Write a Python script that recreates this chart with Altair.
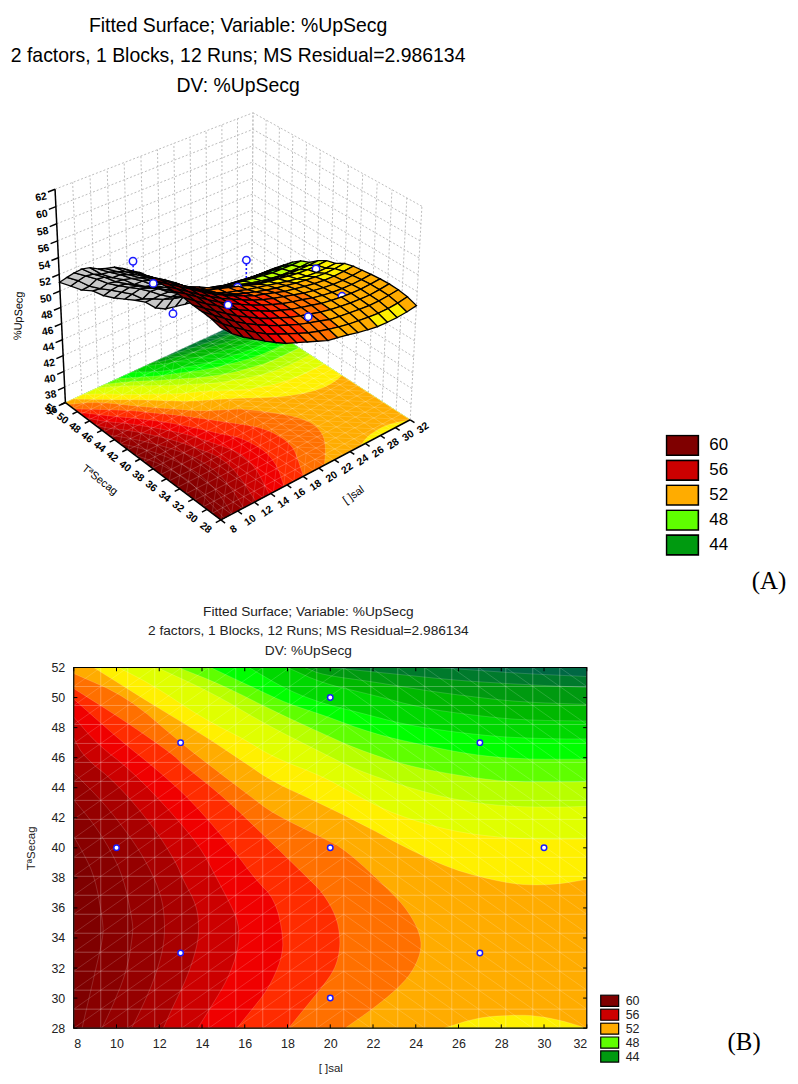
import numpy as np
import pandas as pd
import altair as alt

# ---------- categories / labels ----------
TITLE_LINES = ["Fitted Surface; Variable: %UpSecg",
               "2 factors, 1 Blocks, 12 Runs; MS Residual=2.986134",
               "DV: %UpSecg"]
X_TICKS = [8,10,12,14,16,18,20,22,24,26,28,30,32]
Y_TICKS = [28,30,32,34,36,38,40,42,44,46,48,50,52]
Z_TICKS = [36,38,40,42,44,46,48,50,52,54,56,58,60,62]
LEGEND_VALUES = [60,56,52,48,44]
LEVELS = [60,59,58,57,56,55,54,53,52,51,50,49,48,47,46,45,44,43,42,0]
COLORS = ["#7f0000","#880000","#950000","#a80000","#cc0000","#f00000","#ff2c00","#ff7000",
          "#ffac00","#fff000","#e0ff00","#b8ff00","#5fff00","#00ff00","#00d800","#00b800",
          "#009a10","#007a2c","#006844","#c8c8c8"]

# ---------- contour boundaries: (sal, T) ----------
C43 = [(25,52),(27,51.8),(29,51.6),(32,51.4)]
C44 = [(20,52),(21.2,51.83),(23.5,51.5),(25.8,51.16),(28.15,50.94),(30.46,50.77),(32,50.68)]
C45 = [(18.8,52),(19.66,51.5),(22,51.05),(24.3,50.5),(26.6,50.06),(28.9,49.7),(32,49.55)]
C46 = [(18,52),(19.66,50.94),(22,50.17),(24.3,49.3),(26.6,48.84),(28.9,48.5),(32,48.44)]
C47 = [(16.2,52),(18,50.5),(19.66,49.6),(21.2,49.06),(23.5,48.2),(25.8,47.7),(28.15,47.36),(30.46,47.25),(32,47.25)]
C48 = [(14.4,52),(16.5,50.6),(18,49.6),(19.66,48.84),(22,47.6),(24.3,46.85),(26.6,46.2),(28.9,45.9),(32,45.9)]
C49 = [(12.9,52),(15,50.8),(17.5,49),(19.66,47.6),(21.2,46.6),(23.5,45.5),(25.8,44.86),(28.15,44.4),(30.77,44.37),(32,44.4)]
C50 = [(11.9,52),(14.5,50.3),(17,48.2),(19.66,46.3),(21.2,45.2),(23.5,44.08),(25.8,43.2),(28.15,42.76),(30.46,42.7),(32,42.76)]
C51 = [(10.1,52),(11.73,50.8),(14.06,48.6),(16.07,47.16),(17.3,46.05),(19.66,44.75),(21.2,43.5),(23.05,42.2),(25.67,41.1),(28.15,40.65),(30.46,40.55),(32,40.6)]
C52 = [(8.93,52),(11.73,49.5),(14.06,47.5),(16.07,45.6),(17.3,44.4),(19.66,42.87),(22,41.2),(23.4,40.1),(25.7,38.55),(28.15,37.67),(29.5,37.5),(30.77,37.6),(32,37.9)]
C52_LOW = [(32,28),(30.77,28.53),(29.5,28.86),(28.3,28.86),(26.9,28.7),(25.3,28)]
C53 = [(8,51.6),(10.5,50.04),(13,47),(14.44,45.4),(16.2,43.5),(17.3,42.3),(19.66,40.65),(20.7,39.9),(23.05,36.8),(23.8,35.45),(24.24,34.1),(24.24,33),(23.8,31.65),(23.05,30.5),(22,29.3),(20.7,28)]
C54 = [(8,50.6),(10.33,48.5),(12.66,46.2),(13.05,45.6),(15,43.4),(16.95,40.75),(17.75,39.65),(18.8,38.2),(19.66,37),(20.28,35.45),(20.46,34.1),(20.43,33),(20.2,31.9),(19.66,30.8),(18.05,28)]
C55 = [(8,49.9),(10.17,47.16),(11.9,45.2),(13.6,43),(15.45,39.9),(16.5,37.9),(17.42,36.56),(17.81,34.1),(17.73,32.6),(17.1,30.6),(16.2,29),(15.63,28)]
C56 = [(8,48.7),(9.1,46.9),(10.64,45.2),(12.35,42.7),(13.9,40.1),(14.6,38.2),(15.2,36.6),(15.74,35),(15.7,33.2),(15.2,31.25),(14.46,29.5),(13.8,28)]
C57 = [(8,47.3),(8.47,46.05),(10,44.3),(11.73,41.4),(12.8,39),(13.1,37.9),(13.75,36.2),(13.87,34.6),(13.75,33.3),(13.28,31.3),(12.66,29.5),(12.19,28)]
C58 = [(8,45),(9.4,43),(10.64,40.75),(11.5,38.8),(12.1,36.84),(12.27,35.07),(12.2,33.3),(11.73,31.1),(11.1,29.1),(10.7,28)]
C59 = [(8,43.2),(8.93,41.6),(9.7,39.9),(10.33,38),(10.76,35.07),(10.76,34.2),(10.48,31.76),(9.7,29.1),(9.32,28)]
C60 = [(8,40.75),(8.47,39.6),(9,38),(9.37,35.07),(9.37,34),(9,31.76),(8.39,28)]
BOUNDARIES = {43:C43,44:C44,45:C45,46:C46,47:C47,48:C48,49:C49,50:C50,51:C51,52:C52,
              53:C53,54:C54,55:C55,56:C56,57:C57,58:C58,59:C59,60:C60}

# ---------- surface heights read at the mesh nodes (rows: T 28..52, cols: sal 8..32) ----------
Z_TABLE = [
 [60.3,59.05,58.1,57.25,56.45,55.7,55.0,54.5,54.0,53.5,53.0,52.75,52.5,52.2,51.95,51.75,51.7,51.7,51.8,52.0],
 [60.6,59.45,58.5,57.6,56.75,56.0,55.4,54.85,54.3,53.8,53.4,53.05,52.75,52.5,52.35,52.2,52.1,52.1,52.2,52.4],
 [60.7,59.75,58.8,57.85,57.05,56.35,55.7,55.1,54.6,54.1,53.7,53.35,52.95,52.75,52.6,52.45,52.35,52.35,52.45,52.6],
 [60.75,59.85,58.95,58.1,57.25,56.55,55.85,55.25,54.75,54.25,53.85,53.5,53.15,52.9,52.7,52.55,52.45,52.4,52.5,52.65],
 [60.9,60.0,59.1,58.3,57.45,56.7,56.05,55.45,54.85,54.4,53.95,53.6,53.3,52.95,52.75,52.6,52.5,52.45,52.5,52.6],
 [60.9,60.1,59.2,58.3,57.5,56.75,56.1,55.45,54.9,54.4,53.95,53.6,53.3,52.95,52.7,52.5,52.4,52.35,52.4,52.5],
 [60.85,60.0,59.15,58.25,57.45,56.7,56.05,55.4,54.8,54.3,53.9,53.55,53.2,52.85,52.6,52.4,52.25,52.2,52.25,52.35],
 [60.75,59.9,59.05,58.2,57.35,56.55,55.85,55.2,54.65,54.1,53.75,53.35,52.95,52.7,52.45,52.25,52.1,52.05,52.1,52.2],
 [60.7,59.75,58.85,58.0,57.0,56.1,55.3,54.7,54.2,53.75,53.35,53.0,52.7,52.45,52.2,52.0,51.85,51.75,51.78,51.9],
 [60.45,59.3,58.35,57.45,56.7,55.85,55.0,54.25,53.7,53.35,52.95,52.65,52.35,52.05,51.75,51.5,51.3,51.2,51.2,51.25],
 [60.0,59.0,58.1,57.3,56.4,55.4,54.6,53.9,53.5,53.1,52.7,52.25,51.85,51.6,51.4,51.2,51.0,50.9,50.9,50.95],
 [59.6,58.65,57.7,56.75,55.8,54.9,54.2,53.6,52.95,52.5,52.1,51.65,51.15,50.8,50.6,50.45,50.3,50.25,50.25,50.3],
 [59.1,58.05,57.15,56.25,55.3,54.4,53.55,52.8,52.25,51.75,51.25,50.8,50.5,50.15,49.85,49.6,49.45,49.4,49.4,49.45],
 [58.3,57.4,56.5,55.6,54.75,53.75,52.8,52.05,51.4,50.85,50.55,50.2,49.9,49.7,49.5,49.3,49.1,49.05,49.0,49.0],
 [57.6,56.7,55.85,54.85,54.0,52.95,52.15,51.4,50.75,50.3,49.8,49.45,49.05,48.85,48.6,48.45,48.35,48.25,48.2,48.2],
 [57.1,55.8,54.85,54.05,52.95,52.15,51.45,50.65,49.85,49.25,48.8,48.4,48.0,47.85,47.7,47.55,47.4,47.3,47.25,47.2],
 [56.3,55.15,54.25,53.15,52.35,51.5,50.75,50.1,49.15,48.4,47.85,47.4,47.1,46.85,46.7,46.55,46.4,46.3,46.25,46.2],
 [55.2,54.3,53.35,52.3,51.45,50.7,49.95,49.1,48.1,47.3,46.85,46.6,46.35,46.1,45.85,45.65,45.5,45.3,45.15,45.05],
 [54.0,53.05,51.85,51.0,50.25,49.45,48.65,47.5,46.95,46.3,45.85,45.5,45.2,44.9,44.7,44.55,44.4,44.2,44.05,43.9],
 [52.75,51.75,50.7,50.05,48.9,48.05,47.35,46.65,45.85,44.55,43.85,43.6,43.35,43.1,42.9,42.75,42.6,42.45,42.3,42.2],
]
SURFACE_DROP = 1.7   # the drawn surface sits this far below the contour labels on the z axis

# ---------- observed runs ----------
PT_X   = [10, 13, 13, 20, 20, 20, 27, 27, 30]
PT_T   = [40, 33, 47, 30, 40, 50, 33, 47, 40]
PT_OBS = [56.3, 56.2, 54, 53.3, 51.5, 42.9, 51.0, 48.2, 49.4]
PT_FIT = [58.8, 57.45, 53, 53.9, 53, 46, 52.6, 47.55, 51]
PT_TOP = [True, True, True, True, False, True, False, True, False]

# ---------- 3-D view calibration: box corners on the page (u, v, w) -> (px, py) ----------
CORNERS = [((0,0,0),(220,521.7)),((0,1,0),(63.3,404)),((1,0,0),(409.3,421.7)),((1,1,0),(251,317.7)),
           ((0,1,1),(53.3,190)),((1,0,1),(421.7,206.7)),((1,1,1),(251.7,113.3))]
A = []; B = []
for (u,v,w),(px,py) in CORNERS:
    A.append([u,v,w,1,0,0,0,0,-px*u,-px*v,-px*w]); B.append(px)
    A.append([0,0,0,0,u,v,w,1,-py*u,-py*v,-py*w]); B.append(py)
M = np.linalg.lstsq(np.array(A,float),np.array(B,float),rcond=None)[0]
M = np.append(M,1.0).reshape(3,4)

def proj(sal,t,z=36.0):
    u=(sal-8)/24; v=(t-28)/24; w=(z-36)/26
    p=M@np.array([u,v,w,1.0])
    return float(p[0]/p[2]),float(p[1]/p[2])

# panel geometry on the page
P_LEFT=72; P_TOP=101; P_W=718; P_H=504

def soften(points,rounds=2):
    # corner cutting of the read boundary, the end points stay where they were read
    pts=list(points)
    for _ in range(rounds):
        new=[pts[0]]
        for (a,b),(c,d) in zip(pts[:-1],pts[1:]):
            new.append((0.75*a+0.25*c,0.75*b+0.25*d))
            new.append((0.25*a+0.75*c,0.25*b+0.75*d))
        new.append(pts[-1])
        pts=new
    return pts

def ring(level):
    c=soften(BOUNDARIES[level])
    if level<=51: return c+[(32,28),(8,28),(8,52)]
    if level==52: return c+soften(C52_LOW)+[(8,28),(8,52)]
    return c+[(8,28)]

def poly_rows(to_xy):
    rows=[]
    base=[(8,28),(32,28),(32,52),(8,52)]
    for s,(a,b) in enumerate(base):
        x,y=to_xy(a,b); rows.append(dict(x=x,y=y,poly=42,seq=s,level=42))
    for lv in sorted(BOUNDARIES):
        for s,(a,b) in enumerate(ring(lv)):
            x,y=to_xy(a,b); rows.append(dict(x=x,y=y,poly=lv,seq=s,level=lv))
    return pd.DataFrame(rows)

GX=[8+i*24/19 for i in range(20)]
GY=[28+i*24/19 for i in range(20)]

def mesh_rows(to_xy,diag):
    rows=[]
    def seg(a,b,c,d):
        x1,y1=to_xy(a,b);x2,y2=to_xy(c,d)
        rows.append(dict(x=x1,y=y1,x2=x2,y2=y2))
    if not diag:
        for g in GX: seg(g,28,g,52)
        for g in GY: seg(8,g,32,g)
    else:
        for i in range(19):
            for j in range(19):
                if i<10: seg(GX[i],GY[j],GX[i+1],GY[j+1])
                else: seg(GX[i],GY[j+1],GX[i+1],GY[j])
    return pd.DataFrame(rows)

fill_scale=alt.Scale(domain=LEVELS,range=COLORS)
def fill_enc(legend):
    return alt.Fill('level:O',scale=fill_scale,legend=legend)
band_style=dict(interpolate='linear-closed',stroke='white',strokeOpacity=0.2,strokeWidth=0.8)

# ================= PANEL A =================
xs=alt.Scale(domain=[P_LEFT,P_LEFT+P_W],nice=False,zero=False)
ys=alt.Scale(domain=[P_TOP+P_H,P_TOP],nice=False,zero=False)
X=alt.X('x:Q',scale=xs,axis=None); Y=alt.Y('y:Q',scale=ys,axis=None)

legA=alt.Legend(orient='none',legendX=594,legendY=335,title=None,values=LEGEND_VALUES,
    symbolType='M-1,-0.62H1V0.62H-1Z',symbolSize=1024,symbolStrokeColor='black',symbolStrokeWidth=1.6,symbolOpacity=1,
    labelFontSize=17,labelFont='Liberation Sans',labelColor='black',clipHeight=22,rowPadding=3,labelOffset=10,columns=1)

# back walls
wall=[]
def wl(a,b):
    x1,y1=proj(*a);x2,y2=proj(*b)
    wall.append(dict(x=x1,y=y1,x2=x2,y2=y2))
for z in Z_TICKS:
    wl((8,52,z),(32,52,z)); wl((32,28,z),(32,52,z))
for s in X_TICKS: wl((s,52,36),(s,52,62))
for t in Y_TICKS: wl((32,t,36),(32,t,62))
walls=alt.Chart(pd.DataFrame(wall)).mark_rule(color='#bdbdbd',strokeDash=[2,2],strokeWidth=1).encode(x=X,y=Y,x2='x2:Q',y2='y2:Q')

floor=alt.Chart(poly_rows(lambda a,b:proj(a,b))).mark_line(**band_style).encode(
    x=X,y=Y,detail='poly:N',order='seq:Q',fill=fill_enc(legA))
floormesh=alt.Chart(mesh_rows(lambda a,b:proj(a,b),False)).mark_rule(color='white',opacity=0.25,strokeWidth=0.8).encode(x=X,y=Y,x2='x2:Q',y2='y2:Q')
floordiag=alt.Chart(mesh_rows(lambda a,b:proj(a,b),True)).mark_rule(color='white',opacity=0.18,strokeWidth=0.8).encode(x=X,y=Y,x2='x2:Q',y2='y2:Q')

# axes
ax=[]
def al(a,b):
    x1,y1=proj(*a);x2,y2=proj(*b); ax.append(dict(x=x1,y=y1,x2=x2,y2=y2))
al((8,52,36),(8,28,36)); al((8,28,36),(32,28,36)); al((8,52,36),(8,52,62))
for s in X_TICKS: al((s,28,36),(s,27.4,36))
for t in Y_TICKS: al((8,t,36),(7.4,t,36))
for z in Z_TICKS: al((8,52,z),(7.2,52,z))
axes=alt.Chart(pd.DataFrame(ax)).mark_rule(color='black',strokeWidth=1.5).encode(x=X,y=Y,x2='x2:Q',y2='y2:Q')

def lab(items,angle,size=10.5,weight='bold'):
    df=pd.DataFrame(items,columns=['x','y','t'])
    return alt.Chart(df).mark_text(angle=angle,fontSize=size,font='Liberation Sans',fontWeight=weight,color='black').encode(x=X,y=Y,text='t:N')
labx=lab([(*proj(s,26.2),str(s)) for s in X_TICKS],325)
labt=lab([(*proj(6.2,t),str(t)) for t in Y_TICKS],38)
labz=lab([(proj(8,52,z)[0]-14,proj(8,52,z)[1]+8,str(z)) for z in Z_TICKS],350)
name_x=lab([(353,497,'[ ]sal')],325,11,'normal')
name_t=lab([(98,482,'TªSecag')],38,11,'normal')
name_z=lab([(17,317,'%UpSecg')],272,11,'normal')

# surface
quads=[]
Zt=np.array(Z_TABLE)
for j in range(19):
    for i in range(19):
        corners=[(i,j),(i+1,j),(i+1,j+1),(i,j+1)]
        pts=[proj(GX[a],GY[b],Zt[b,a]-SURFACE_DROP) for a,b in corners]
        area=sum(pts[k][0]*pts[(k+1)%4][1]-pts[(k+1)%4][0]*pts[k][1] for k in range(4))
        m=np.mean([Zt[b,a] for a,b in corners])
        lev=0 if area>0 else int(min(60,max(42,np.floor(m))))
        depth=(GX[i]+GX[i+1])/2+(GY[j]+GY[j+1])/2
        for s,(px,py) in enumerate(pts):
            quads.append(dict(x=px,y=py,q=j*19+i,seq=s,level=lev,depth=depth))
qdf=pd.DataFrame(quads).sort_values(['depth','q','seq'],ascending=[False,True,True])

def quad_chunk(lo,hi):
    d=qdf[(qdf.depth>lo)&(qdf.depth<=hi)]
    if len(d)==0: return None
    return alt.Chart(d).mark_line(interpolate='linear-closed',stroke='black',strokeWidth=1.3).encode(
        x=X,y=Y,detail='q:N',order='seq:Q',fill=fill_enc(legA))
def stem_layer(k):
    x1,y1=proj(PT_X[k],PT_T[k],PT_OBS[k]);x2,y2=proj(PT_X[k],PT_T[k],PT_FIT[k]-SURFACE_DROP)
    return alt.Chart(pd.DataFrame([dict(x=x1,y=y1,x2=x2,y2=y2)])).mark_rule(color='#1a1aff',strokeWidth=1.6,strokeDash=[2,2]).encode(x=X,y=Y,x2='x2:Q',y2='y2:Q')
def dot_layer(k):
    x1,y1=proj(PT_X[k],PT_T[k],PT_OBS[k])
    return alt.Chart(pd.DataFrame([dict(x=x1,y=y1)])).mark_point(filled=True,fill='white',stroke='#1a1aff',strokeWidth=1.5,size=55,opacity=1).encode(x=X,y=Y)

hidden=sorted([k for k in range(len(PT_X)) if not PT_TOP[k]],key=lambda k:-(PT_X[k]+PT_T[k]))
surface_layers=[stem_layer(k) for k in range(len(PT_X)) if PT_TOP[k]]
upper=1e9
for k in hidden:
    key=PT_X[k]+PT_T[k]
    ch=quad_chunk(key,upper)
    if ch is not None: surface_layers.append(ch)
    upper=key
    surface_layers+=[stem_layer(k),dot_layer(k)]
surface_layers.append(quad_chunk(-1e9,upper))
for k in range(len(PT_X)):
    if PT_TOP[k]: surface_layers.append(dot_layer(k))

tagA=alt.Chart(pd.DataFrame(dict(x=[770],y=[583],t=['(A)']))).mark_text(font='Liberation Serif',fontSize=25,color='black').encode(x=X,y=Y,text='t:N')

panelA=alt.layer(walls,floor,floormesh,floordiag,*surface_layers,axes,labx,labt,labz,name_x,name_t,name_z,tagA).properties(
    width=P_W,height=P_H,view=alt.ViewConfig(stroke='transparent'),
    title=alt.TitleParams(text=TITLE_LINES,fontSize=19.5,lineHeight=30,font='Liberation Sans',fontWeight='normal',color='black',anchor='middle',dx=-194,offset=4))

# ================= PANEL B =================
xb=alt.Scale(domain=[8,32],nice=False,zero=False)
yb=alt.Scale(domain=[28,52],nice=False,zero=False)
legB=alt.Legend(orient='none',legendX=528,legendY=328,title=None,values=LEGEND_VALUES,
    symbolType='M-1,-0.62H1V0.62H-1Z',symbolSize=324,symbolStrokeColor='black',symbolStrokeWidth=1.2,symbolOpacity=1,
    labelFontSize=12.5,labelFont='Liberation Sans',labelColor='#222222',clipHeight=13,rowPadding=1,labelOffset=6,columns=1)
axis_style=dict(tickSize=0,grid=False,domain=False,labelFontSize=12.5,labelFont='Liberation Sans',labelColor='#222222',labelOverlap=False,
                titleFontSize=11.5,titleFont='Liberation Sans',titleFontWeight='normal',titleColor='#222222')
Xb=alt.X('x:Q',scale=xb,title='[ ]sal',axis=alt.Axis(values=X_TICKS,labelPadding=9,titlePadding=13,**axis_style))
Yb=alt.Y('y:Q',scale=yb,title='TªSecag',axis=alt.Axis(values=Y_TICKS,labelPadding=9,titlePadding=14,**axis_style))
bands=alt.Chart(poly_rows(lambda a,b:(a,b))).mark_line(**band_style).encode(
    x=Xb,y=Yb,detail='poly:N',order='seq:Q',fill=fill_enc(legB))
meshb=alt.Chart(mesh_rows(lambda a,b:(a,b),False)).mark_rule(color='white',opacity=0.28,strokeWidth=1).encode(x=Xb,y=Yb,x2='x2:Q',y2='y2:Q')
diagb=alt.Chart(mesh_rows(lambda a,b:(a,b),True)).mark_rule(color='white',opacity=0.2,strokeWidth=0.8).encode(x=Xb,y=Yb,x2='x2:Q',y2='y2:Q')
tk=[]
for s in X_TICKS:
    tk.append(dict(x=s,y=28,x2=s,y2=28.25)); tk.append(dict(x=s,y=52,x2=s,y2=51.75))
for t in Y_TICKS:
    tk.append(dict(x=8,y=t,x2=8.17,y2=t)); tk.append(dict(x=32,y=t,x2=31.83,y2=t))
ticks=alt.Chart(pd.DataFrame(tk)).mark_rule(color='black',strokeWidth=1).encode(x=Xb,y=Yb,x2='x2:Q',y2='y2:Q')
frame=alt.Chart(pd.DataFrame(dict(x=[8],x2=[32],y=[28],y2=[52]))).mark_rect(filled=False,stroke='black',strokeWidth=1.2).encode(x=Xb,x2='x2:Q',y=Yb,y2='y2:Q')
ptsb=alt.Chart(pd.DataFrame(dict(x=PT_X,y=PT_T))).mark_point(filled=True,fill='white',stroke='#1a1aff',strokeWidth=1.5,size=30,opacity=1).encode(x=Xb,y=Yb)
tagB=alt.Chart(pd.DataFrame(dict(t=['(B)']))).mark_text(font='Liberation Serif',fontSize=25,color='black').encode(x=alt.value(673),y=alt.value(376),text='t:N')

panelB=alt.layer(bands,meshb,diagb,ticks,frame,ptsb,tagB).properties(
    width=515,height=362,view=alt.ViewConfig(stroke='transparent'),
    title=alt.TitleParams(text=TITLE_LINES,fontSize=13.75,lineHeight=19.5,font='Liberation Sans',fontWeight='normal',color='#222222',anchor='middle',dx=-22,offset=4))

chart=alt.vconcat(panelA,panelB,spacing=0).resolve_scale(fill='independent',x='independent',y='independent').properties(padding={'left':2,'top':6,'right':0,'bottom':0})
chart.save("out.html",embed_options={"renderer":"svg","actions":False})
